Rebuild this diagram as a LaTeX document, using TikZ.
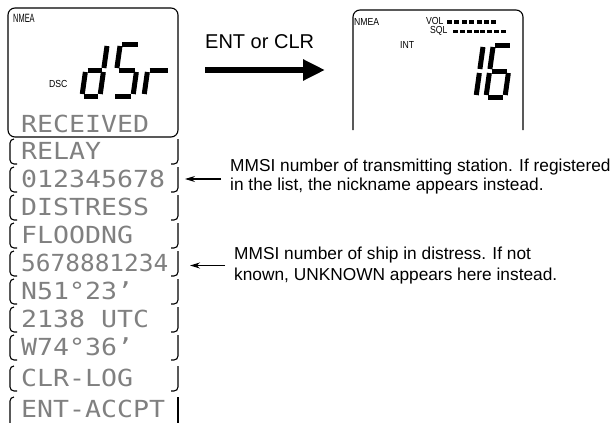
\documentclass[tikz,border=0pt]{standalone}
\usepackage{fontspec}
\setmainfont{Liberation Sans}
\newfontfamily\dmfont[FakeStretch=1.13]{DejaVu Sans Mono}
\newfontfamily\dmnfont[FakeStretch=1.04]{DejaVu Sans Mono}
\newfontfamily\lcdlbl[FakeStretch=0.85]{Liberation Sans}
\newfontfamily\lcdnar[FakeStretch=0.62]{Liberation Sans}
\usetikzlibrary{arrows.meta}

\tikzset{
  brk/.style={line width=1.1pt, rounded corners=4pt},
  seg/.style={line width=5pt, line cap=butt},
  dm/.style={inner sep=0pt, anchor=base west, text=black!50,
             font=\dmfont\fontsize{23.5}{23.5}\selectfont},
  dmn/.style={inner sep=0pt, anchor=base west, text=black!50,
             font=\dmnfont\fontsize{23.5}{23.5}\selectfont},
  small/.style={inner sep=0pt, anchor=base west,
             font=\lcdlbl\fontsize{10.2}{10.2}\selectfont},
  note/.style={inner sep=0pt, anchor=base west,
             font=\fontsize{17.3}{19}\selectfont},
  ptr/.style={line width=1.1pt, -{Stealth[length=10pt,width=6pt]}},
  bigarrow/.style={line width=6pt, -{Triangle[length=22pt,width=20pt]}},
}

% seven-segment helpers
\def\Dx{0}\def\Dy{0}\def\DW{18}\def\DH{52}\def\Ds{0.14}
\newcommand\SegLine[4]{\draw[seg] ({\Dx+(#1)+\Ds*(#2)},{\Dy-(#2)}) -- ({\Dx+(#3)+\Ds*(#4)},{\Dy-(#4)});}
\newcommand\SegA{\SegLine{2}{\DH}{\DW-2}{\DH}}
\newcommand\SegB{\SegLine{\DW}{\DH-2}{\DW}{\DH/2+2}}
\newcommand\SegC{\SegLine{\DW}{\DH/2-2}{\DW}{2}}
\newcommand\SegD{\SegLine{2}{0}{\DW-2}{0}}
\newcommand\SegE{\SegLine{0}{2}{0}{\DH/2-2}}
\newcommand\SegF{\SegLine{0}{\DH/2+2}{0}{\DH-2}}
\newcommand\SegG{\SegLine{2}{\DH/2}{\DW-2}{\DH/2}}

\begin{document}
\begin{tikzpicture}[x=1pt,y=-1pt]
\useasboundingbox (0,0) rectangle (614,423);

% ---------- left LCD ----------
\node[draw, line width=1.1pt, rounded corners=7pt, minimum width=170pt,
      minimum height=129pt, inner sep=0pt] (mainlcd) at (93,72.5) {};
\node[inner sep=0pt, anchor=base west, font=\lcdnar\fontsize{12}{12}\selectfont] (nmeaL) at (13,23) {NMEA};
\node[small] (dsc) at (49,87) {DSC};

% dSr
\def\Dy{96}\def\DH{52}
\def\Dx{82}\def\DW{18}\SegB\SegC\SegD\SegE\SegG
\def\Dx{113}\def\DW{20}\SegA\SegF\SegG\SegC\SegD
\def\Dx{144}\def\DW{22}\SegE\SegG

\node[dm] (recv) at (21,132) {RECEIVED};

% rows
\foreach \t/\txt/\nm in {139/RELAY/rowA, 167/012345678/rowB, 195/DISTRESS/rowC,
    223/FLOODNG/rowD, 279/N51°23’/rowF, 307/2138 UTC/rowG, 335/W74°36’/rowH,
    366/CLR-LOG/rowI}{
  \draw[brk] (14,\t) -- (10,\t) -- (10,\t+25) -- (17,\t+25);
  \draw[brk] (178,\t) -- (178,\t+25) -- (171,\t+25);
  \node[dm] (\nm) at (21,\t+20) {\txt};
}
% row with ten characters
\draw[brk] (14,251) -- (10,251) -- (10,276) -- (17,276);
\draw[brk] (178,251) -- (178,276) -- (171,276);
\node[dmn] (rowE) at (21,271) {5678881234};
% last row
\draw[brk] (14,397) -- (10,397) -- (10,424);
\draw[line width=1.1pt] (178,397) -- (178,424);
\node[dm] (rowJ) at (21,417) {ENT-ACCPT};

% ---------- big arrow ----------
\node[inner sep=0pt, anchor=base west, font=\fontsize{20}{20}\selectfont] (entclr) at (205,48) {ENT or CLR};
\coordinate (bigS) at (205,70);
\coordinate (bigE) at (325,70);
\draw[bigarrow] (bigS) -- (bigE);

% ---------- right LCD ----------
\draw[line width=1.1pt, rounded corners=7pt] (353,130) -- (353,10) -- (523,10) -- (523,130);
\node[small] (nmeaR) at (354,25) {NMEA};
\node[small] (vol) at (426,24.5) {VOL};
\node[small] (sql) at (430,34) {SQL};
\node[small] (int) at (400,48) {INT};
\foreach \i in {0,...,6} \fill (447+7.4*\i,20) rectangle ++(5,3.6);
\foreach \i in {0,...,7} \fill (453+6.85*\i,29.5) rectangle ++(5,3.6);
\def\Dy{97}\def\DH{52}
\def\Dx{462}\def\DW{14}\SegB\SegC
\def\Dx{486}\def\DW{19}\SegA\SegC\SegD\SegE\SegF\SegG

% ---------- annotations ----------
\node[note] (n1a) at (230,171.5) {MMSI number of transmitting station. If registered};
\node[note] (n1b) at (230,190) {in the list, the nickname appears instead.};
\coordinate (p1s) at (221,179);
\coordinate (p1e) at (185,179);
\draw[ptr] (p1s) -- (p1e);

\node[note] (n2a) at (234,259.3) {MMSI number of ship in distress. If not};
\node[note] (n2b) at (234,280) {known, UNKNOWN appears here instead.};
\coordinate (p2s) at (225,265.5);
\coordinate (p2e) at (190,265.5);
\draw[ptr] (p2s) -- (p2e);
\end{tikzpicture}
\end{document}
